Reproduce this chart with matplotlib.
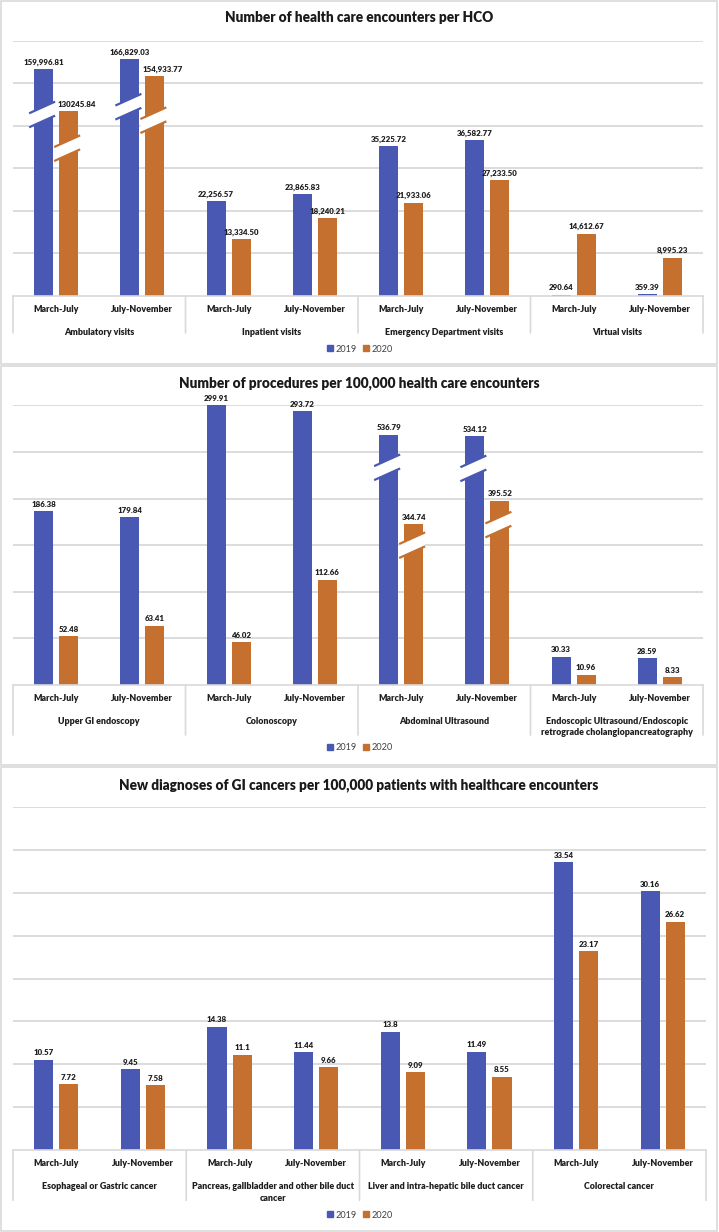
import matplotlib
matplotlib.use("Agg")
import matplotlib.pyplot as plt
from matplotlib.patches import Rectangle, Polygon
from matplotlib.lines import Line2D

plt.rcParams['font.family'] = ['Lato', 'DejaVu Sans']

# ---- data ----
periods = ["March-July", "July-November"]

groups1 = ["Ambulatory visits", "Inpatient visits", "Emergency Department visits", "Virtual visits"]
enc_2019 = [159996.81, 166829.03, 22256.57, 23865.83, 35225.72, 36582.77, 290.64, 359.39]
enc_2020 = [130245.84, 154933.77, 13334.50, 18240.21, 21933.06, 27233.50, 14612.67, 8995.23]

groups2 = ["Upper GI endoscopy", "Colonoscopy", "Abdominal Ultrasound",
           "Endoscopic Ultrasound/Endoscopic\nretrograde cholangiopancreatography"]
proc_2019 = [186.38, 179.84, 299.91, 293.72, 536.79, 534.12, 30.33, 28.59]
proc_2020 = [52.48, 63.41, 46.02, 112.66, 344.74, 395.52, 10.96, 8.33]

groups3 = ["Esophageal or Gastric cancer", "Pancreas, gallbladder and other bile duct\ncancer",
           "Liver and intra-hepatic bile duct cancer", "Colorectal cancer"]
canc_2019 = [10.57, 9.45, 14.38, 11.44, 13.8, 11.49, 33.54, 30.16]
canc_2020 = [7.72, 7.58, 11.1, 9.66, 9.09, 8.55, 23.17, 26.62]

C19 = "#4858B3"
C20 = "#C5702F"
GRID = "#d9d9d9"
TXT = "#1f1f1f"
WT = 'heavy'

W, H = 719, 1232
fig = plt.figure(figsize=(W / 100, H / 100), dpi=100)


def px_axes(left, right, top, bottom):
    return fig.add_axes([left / W, 1 - bottom / H, (right - left) / W, (bottom - top) / H])


def panel_box(top, bottom):
    fig.patches.append(Rectangle((1 / W, 1 - bottom / H), 716 / W, (bottom - top) / H,
                                 transform=fig.transFigure, fill=False,
                                 edgecolor=GRID, lw=1.2))


def draw_panel(ax, groups, v19, v20, ymax, step, fmt, cut=None, squash=1, brk=0.82,
               table_h=37, nudge=0):
    n = len(v19)
    x = list(range(n))
    # bars above the axis break are drawn squashed
    s19 = [v / squash if cut and v > cut else v for v in v19]
    s20 = [v / squash if cut and v > cut else v for v in v20]
    w, off = 0.22, 0.145
    ax.bar([i - off for i in x], s19, w, color=C19, zorder=3)
    ax.bar([i + off for i in x], s20, w, color=C20, zorder=3)
    ax.set_xlim(-0.5, n - 0.5)
    ax.set_ylim(0, ymax)
    for t in range(step, ymax + 1, step):
        ax.axhline(t, color=GRID, lw=1.3, zorder=1)
    ax.axhline(0, color=GRID, lw=1.2, zorder=4, clip_on=False)
    for sp in ax.spines.values():
        sp.set_visible(False)
    ax.set_xticks([])
    ax.set_yticks([])

    # pixel scale for the break marks
    bb = ax.get_position()
    pxx = bb.width * W / n
    pxy = bb.height * H / ymax

    for vals, shown, dx, col in [(v19, s19, -off, C19), (v20, s20, off, C20)]:
        for i, (v, s) in enumerate(zip(vals, shown)):
            broken = bool(cut and v > cut)
            shift = nudge if (broken and col == C20) else 0
            ax.annotate(fmt(v), (i + dx, s), xytext=(shift, 2.5), textcoords='offset points',
                        ha='center', va='bottom', fontsize=5.7, fontweight=WT,
                        color=TXT, zorder=6)
            if broken:
                yb = s * brk
                x0 = i + dx - w / 2 - 5 / pxx
                x1 = i + dx + w / 2 + 2 / pxx
                rise = 0.45 * (x1 - x0) * pxx / pxy
                gap = 14 / pxy
                lo = [(x0, yb - gap / 2 - rise / 2), (x1, yb - gap / 2 + rise / 2)]
                hi = [(x0, yb + gap / 2 - rise / 2), (x1, yb + gap / 2 + rise / 2)]
                ax.add_patch(Polygon(lo + hi[::-1], closed=True, facecolor='white',
                                     edgecolor='none', zorder=4))
                for seg in (lo, hi):
                    ax.plot([p[0] for p in seg], [p[1] for p in seg], color=col,
                            lw=1.6, zorder=5, solid_capstyle='butt')

    # category table under the axis
    tr = ax.get_xaxis_transform()
    for b in range(0, n + 1, 2):
        ax.annotate('', xy=(b - 0.5, 0), xycoords=tr, xytext=(0, -table_h * 0.72),
                    textcoords='offset points',
                    arrowprops=dict(arrowstyle='-', color=GRID, lw=1.2, shrinkA=0, shrinkB=0))
    for i in x:
        ax.annotate(periods[i % 2], (i, 0), xycoords=tr, xytext=(0, -13 * 0.72),
                    textcoords='offset points', ha='center', va='center',
                    fontsize=6.4, fontweight=WT, color=TXT)
    for g, name in enumerate(groups):
        ax.annotate(name, (2 * g + 0.5, 0), xycoords=tr, xytext=(0, -32 * 0.72),
                    textcoords='offset points', ha='center', va='top',
                    fontsize=6.4, fontweight=WT, color=TXT, linespacing=1.35,
                    annotation_clip=False)
    return ax


def legend_at(y):
    h = [Line2D([], [], ls='none', marker='s', ms=4, color=C19),
         Line2D([], [], ls='none', marker='s', ms=4, color=C20)]
    fig.legend(h, ["2019", "2020"], loc='center', bbox_to_anchor=(360 / W, 1 - y / H),
               ncol=2, frameon=False, fontsize=6.6, handlelength=0.6,
               handletextpad=0.3, columnspacing=0.8, labelcolor='#404040')


def title_at(text, y):
    fig.text(359 / W, 1 - y / H, text, ha='center', va='center', fontsize=9.8,
             fontweight=WT, color='#1a1a1a')


# panel 1
panel_box(1, 364)
ax1 = px_axes(13, 703, 40.7, 296)
draw_panel(ax1, groups1, enc_2019, enc_2020, 60000, 10000,
           lambda v: "130245.84" if v == 130245.84 else f"{v:,.2f}",
           cut=100000, squash=3, brk=0.80, table_h=37, nudge=6)
title_at("Number of health care encounters per HCO", 18)
legend_at(349)

# panel 2
panel_box(366, 765)
ax2 = px_axes(13, 703, 405.3, 685)
draw_panel(ax2, groups2, proc_2019, proc_2020, 300, 50, lambda v: f"{v:.2f}",
           cut=300, squash=2, brk=0.87, table_h=50)
title_at("Number of procedures per 100,000 health care encounters", 383)
legend_at(748)

# panel 3
panel_box(767, 1231)
ax3 = px_axes(13, 706, 806.7, 1150.3)
draw_panel(ax3, groups3, canc_2019, canc_2020, 40, 5, lambda v: f"{v:g}", table_h=50)
title_at("New diagnoses of GI cancers per 100,000 patients with healthcare encounters", 785)
legend_at(1215)

fig.savefig("out.png", dpi=100, facecolor='white')
